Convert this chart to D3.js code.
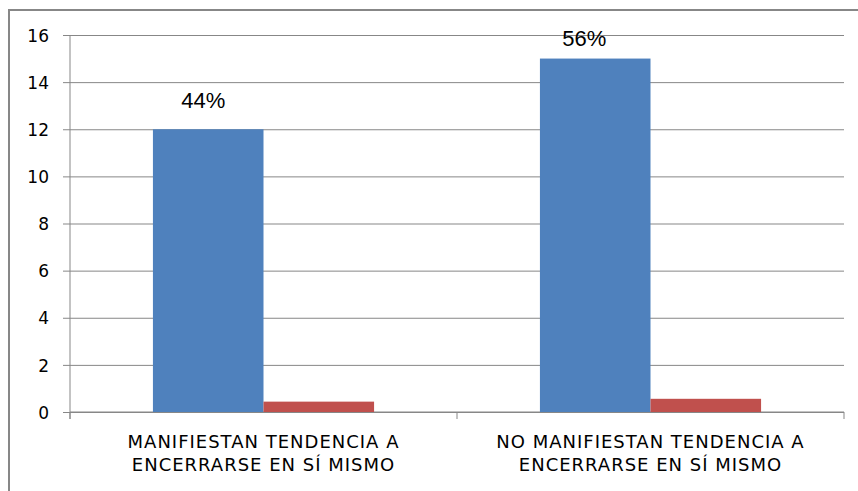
<!DOCTYPE html>
<html>
<head>
<meta charset="utf-8">
<script src="https://cdn.jsdelivr.net/npm/d3@7"></script>
<style>
  body { margin: 0; background: #fff; }
  text { font-family: "DejaVu Sans", sans-serif; fill: #000; }
</style>
</head>
<body>
<div id="container"></div>
<script>
// data
const categories = [
  ["MANIFIESTAN TENDENCIA A", "ENCERRARSE EN SÍ MISMO"],
  ["NO MANIFIESTAN TENDENCIA A", "ENCERRARSE EN SÍ MISMO"]
];
const countValues = [12, 15];
const shareValues = [0.44, 0.56];
const pctLabels = ["44%", "56%"];
const yTicks = [0, 2, 4, 6, 8, 10, 12, 14, 16];

const width = 858;
const height = 491;
const plot = { left: 70, right: 844, top: 35, bottom: 412 };
// hand-placed label nudges (dx, gap above bar) as in the original
const labelNudge = [[-5, 21.5], [-11, 13]];

const svg = d3.select("#container").append("svg")
    .attr("width", width)
    .attr("height", height);

// outer frame (runs off the right and bottom edges)
svg.append("rect")
    .attr("x", 9).attr("y", 10)
    .attr("width", 870).attr("height", 500)
    .attr("fill", "none")
    .attr("stroke", "#878787")
    .attr("stroke-width", 2);

const x0 = d3.scaleBand()
    .domain(d3.range(categories.length))
    .range([plot.left, plot.right])
    .paddingInner(0)
    .paddingOuter(0);

const barW = x0.bandwidth() / 3.5;   // gap width 150%
const yScale = d3.scaleLinear().domain([0, 16]).range([plot.bottom, plot.top]);

// gridlines + y axis
const yaxis = d3.axisLeft(yScale)
    .tickValues(yTicks)
    .tickSize(-(plot.right - plot.left));

const gy = svg.append("g")
    .attr("transform", "translate(" + plot.left + ",0)")
    .call(yaxis);
gy.select(".domain").remove();
gy.selectAll(".tick line")
    .attr("x1", -7)
    .attr("stroke", "#878787");
gy.selectAll(".tick text")
    .attr("x", -21)
    .attr("dy", "0.36em")
    .style("font-size", "17px")
    .style("font-family", "DejaVu Sans, sans-serif")
    .attr("fill", "#000");

// y axis line
svg.append("line")
    .attr("x1", plot.left).attr("x2", plot.left)
    .attr("y1", plot.top).attr("y2", plot.bottom + 7)
    .attr("stroke", "#878787");

// x axis line and boundary ticks
svg.append("line")
    .attr("x1", plot.left).attr("x2", plot.right)
    .attr("y1", plot.bottom).attr("y2", plot.bottom)
    .attr("stroke", "#878787");
svg.selectAll("xb")
    .data(d3.range(categories.length + 1))
    .enter()
    .append("line")
    .attr("x1", d => plot.left + d * x0.bandwidth())
    .attr("x2", d => plot.left + d * x0.bandwidth())
    .attr("y1", plot.bottom)
    .attr("y2", plot.bottom + 7)
    .attr("stroke", "#878787");

// bars
const groups = svg.selectAll("grp")
    .data(categories)
    .enter()
    .append("g");

groups.append("rect")
    .attr("x", (d, i) => x0(i) + barW * 0.75)
    .attr("y", (d, i) => yScale(countValues[i]))
    .attr("width", barW)
    .attr("height", (d, i) => yScale(0) - yScale(countValues[i]))
    .attr("fill", "#4F81BD");

groups.append("rect")
    .attr("x", (d, i) => x0(i) + barW * 1.75)
    .attr("y", (d, i) => yScale(shareValues[i]))
    .attr("width", barW)
    .attr("height", (d, i) => yScale(0) - yScale(shareValues[i]))
    .attr("fill", "#C0504D");

// percentage labels
groups.append("text")
    .attr("x", (d, i) => x0(i) + barW * 1.25 + labelNudge[i][0])
    .attr("y", (d, i) => yScale(countValues[i]) - labelNudge[i][1])
    .attr("text-anchor", "middle")
    .style("font-family", "Liberation Sans, Arial, sans-serif")
    .style("font-size", "22px")
    .text((d, i) => pctLabels[i]);

// category labels
groups.each(function (d, i) {
    const t = d3.select(this).append("text")
        .attr("text-anchor", "middle")
        .style("font-size", "18px")
        .style("letter-spacing", "1px");
    d.forEach(function (line, k) {
        t.append("tspan")
            .attr("x", x0(i) + x0.bandwidth() / 2)
            .attr("y", 448 + k * 23)
            .text(line);
    });
});
</script>
</body>
</html>
